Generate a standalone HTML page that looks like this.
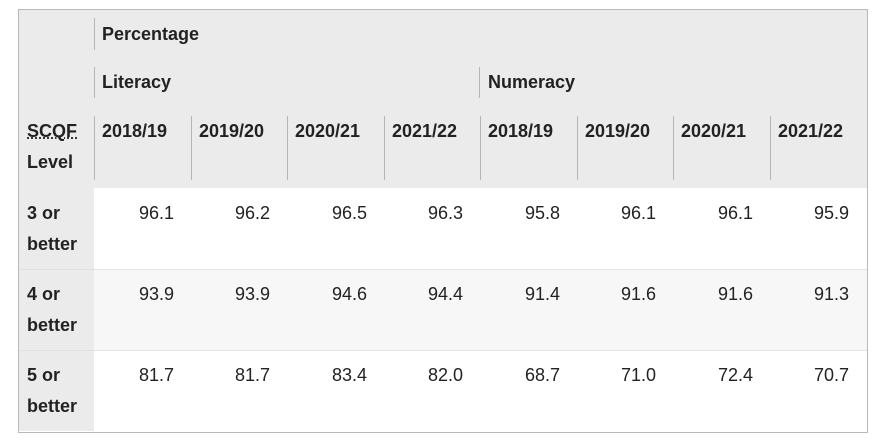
<!DOCTYPE html>
<html><head><meta charset="utf-8"><style>
body{margin:0;width:891px;height:443px;background:#fff;position:relative;font-family:"Liberation Sans",Arial,sans-serif;color:#222;overflow:hidden}
.abs{position:absolute}
.t{position:absolute;font-size:18px;line-height:20px;white-space:nowrap}
.b{font-weight:bold}
.sep{position:absolute;width:1px;background:#b5b5b5}
</style></head><body>
<div class="abs" style="left:18px;top:9px;width:848px;height:422px;border:1px solid #b8b8b8;background:#fff"></div>
<div class="abs" style="left:19px;top:10px;width:848px;height:178px;background:#ebebeb"></div>
<div class="abs" style="left:19px;top:188px;width:75px;height:243px;background:#ebebeb"></div>
<div id="root"></div>
<script>
const columns=["2018/19","2019/20","2020/21","2021/22","2018/19","2019/20","2020/21","2021/22"];
const rowLabels=["3 or","4 or","5 or"];
const literacy=[[96.1,96.2,96.5,96.3],[93.9,93.9,94.6,94.4],[81.7,81.7,83.4,82.0]];
const numeracy=[[95.8,96.1,96.1,95.9],[91.4,91.6,91.6,91.3],[68.7,71.0,72.4,70.7]];

const root=document.getElementById('root');
const colLeft=i=>94+i*96.5;
const rowTop=r=>188+r*81;
function add(cls,style,txt){const d=document.createElement('div');d.className=cls;d.style.cssText=style;if(txt!==undefined)d.textContent=txt;root.appendChild(d);return d;}
for(let r=0;r<3;r++){
  const bg=add('abs',`left:94px;top:${rowTop(r)}px;width:773px;height:81px;background:${r==1?'#f7f7f7':'#fff'};border-top:${r?1:0}px solid #e4e4e4`);
  
  
  const lbl=add('abs',`left:19px;top:${rowTop(r)}px;width:75px;height:81px;border-top:${r?1:0}px solid #e0e0e0`);
  
  
}
let s=add('sep','left:94px;top:18px;height:32px');
s=add('sep','left:94px;top:67px;height:31px');
s=add('sep','left:479px;top:67px;height:31px');
for(let i=0;i<8;i++){s=add('sep',`left:${Math.round(colLeft(i))}px;top:116px;height:64px`);}
let t=add('t b','left:102px;top:24px','Percentage');
t=add('t b','left:102px;top:72px','Literacy');
t=add('t b','left:488px;top:72px','Numeracy');
t=add('t b','left:27px;top:121px;text-decoration:underline dotted','SCQF');
t=add('t b','left:27px;top:152px','Level');
columns.forEach((c,i)=>{
  const e=add('t b',`left:${Math.round(colLeft(i))+8}px;top:121px`,c);
  
  
});
rowLabels.forEach((l,r)=>{
  let e=add('t b',`left:27px;top:${rowTop(r)+15}px`,l);
  
  
  e=add('t b',`left:27px;top:${rowTop(r)+46}px`,'better');
  
  
  const vals=literacy[r].concat(numeracy[r]);
  vals.forEach((v,i)=>{
    const right=891-Math.round(colLeft(i)+96.5)+17;
    const c=add('t',`right:${right}px;top:${rowTop(r)+15}px`,v.toFixed(1));
    
    
  });
});
</script>
</body></html>
